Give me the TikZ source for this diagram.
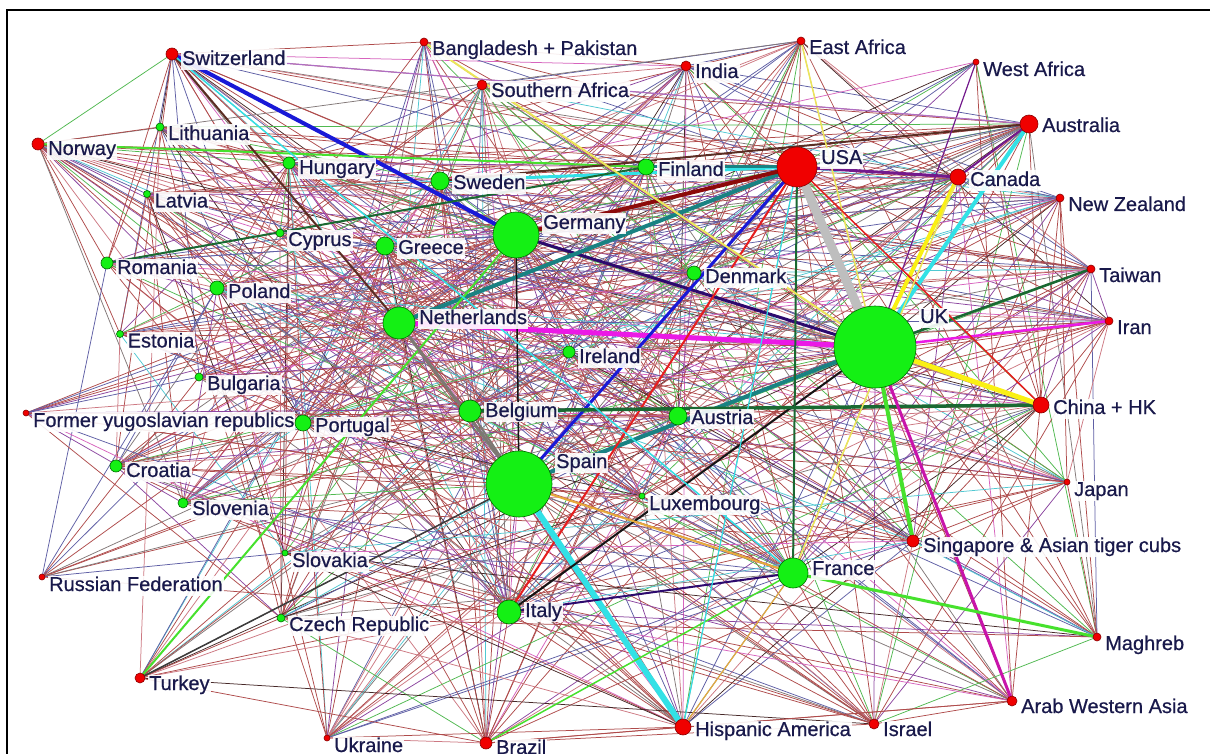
\documentclass[tikz,border=0pt]{standalone}
\usepackage{fontspec}
\setmainfont{Liberation Sans}
\newfontfamily\lblfont{Liberation Sans}[FakeBold=0.6]
\definecolor{txt}{RGB}{25,25,75}
\definecolor{gfill}{RGB}{20,240,20}
\definecolor{gline}{RGB}{0,110,0}
\definecolor{rfill}{RGB}{240,0,0}
\definecolor{rline}{RGB}{140,0,0}
% thin edge palette
\definecolor{eBr}{RGB}{175,75,75}
\definecolor{eRo}{RGB}{205,120,130}
\definecolor{ePu}{RGB}{140,70,160}
\definecolor{eSl}{RGB}{95,95,165}
\definecolor{ePk}{RGB}{215,100,190}
\definecolor{eGy}{RGB}{130,120,120}
\definecolor{eGn}{RGB}{80,185,80}
\definecolor{eCy}{RGB}{80,200,210}
\definecolor{eDk}{RGB}{70,40,40}
\colorlet{ec0}{eBr}\colorlet{ec1}{eBr}\colorlet{ec2}{eBr}\colorlet{ec3}{eBr}
\colorlet{ec4}{eBr}\colorlet{ec5}{eBr}\colorlet{ec6}{eBr}\colorlet{ec7}{eBr}
\colorlet{ec8}{eRo}\colorlet{ec9}{eRo}\colorlet{ec10}{ePu}\colorlet{ec11}{ePu}
\colorlet{ec12}{eSl}\colorlet{ec13}{eSl}\colorlet{ec14}{eSl}\colorlet{ec15}{ePk}
\colorlet{ec16}{eGy}\colorlet{ec17}{eGn}\colorlet{ec18}{eCy}\colorlet{ec19}{eDk}
% thick edge colours
\definecolor{kGray}{RGB}{190,190,190}
\definecolor{kMag}{RGB}{235,25,230}
\definecolor{kBlue}{RGB}{25,25,215}
\definecolor{kNavy}{RGB}{45,10,110}
\definecolor{kTeal}{RGB}{25,130,130}
\definecolor{kRed}{RGB}{230,30,30}
\definecolor{kCyan}{RGB}{50,225,230}
\definecolor{kBlack}{RGB}{20,20,20}
\definecolor{kDGreen}{RGB}{25,105,50}
\definecolor{kYellow}{RGB}{250,240,20}
\definecolor{kGreen}{RGB}{70,225,45}
\definecolor{kPurple}{RGB}{115,25,140}
\definecolor{kDRed}{RGB}{140,10,10}
\definecolor{kOrange}{RGB}{230,170,60}
\definecolor{kBrown}{RGB}{90,45,35}
\definecolor{kLPur}{RGB}{175,110,195}
\definecolor{kDGray}{RGB}{60,60,60}
\definecolor{kMGray}{RGB}{125,120,115}
\definecolor{kLYel}{RGB}{235,230,90}
\definecolor{kAWA}{RGB}{200,20,170}
\tikzset{
  edge/.style={line width=0.75pt},
  lbl/.style={font=\lblfont\fontsize{20}{22}\selectfont, text=txt, fill=white, fill opacity=0.9, text opacity=1, inner sep=1pt, text height=14.5pt, text depth=4pt},
  gdot/.style={circle, draw=gline, fill=gfill, line width=0.6pt, inner sep=0pt},
  rdot/.style={circle, draw=rline, fill=rfill, line width=0.6pt, inner sep=0pt},
}
\def\nodelist{%
sui/172/54/6/rdot/0.78/Switzerland,
bgd/424/42/4/rdot/0.62/Bangladesh + Pakistan,
ind/686/66/5/rdot/0.72/India,
eaf/801/41/4/rdot/0.52/East Africa,
waf/976/62/3/rdot/0.45/West Africa,
saf/482/85/5/rdot/0.62/Southern Africa,
aus/1029/124/9/rdot/0.82/Australia,
nor/38/144/6/rdot/0.72/Norway,
lit/160/127/4/gdot/0.57/Lithuania,
hun/289/163/6/gdot/0.72/Hungary,
swe/440/181/9/gdot/0.82/Sweden,
fin/646/167/8/gdot/0.78/Finland,
usa/797/167/20/rdot/1.3/USA,
can/958/177/8/rdot/0.82/Canada,
nzl/1060/198/4/rdot/0.62/New Zealand,
lat/147/194/3.5/gdot/0.52/Latvia,
ger/516/235/23/gdot/1.3/Germany,
cyp/280/233/4/gdot/0.57/Cyprus,
gre/385/246/9/gdot/0.82/Greece,
den/694/273/7/gdot/0.78/Denmark,
twn/1091/269/4/rdot/0.62/Taiwan,
rom/107/263/6/gdot/0.72/Romania,
pol/217/288/7/gdot/0.78/Poland,
ned/399/323/16/gdot/1.1/Netherlands,
uk/875/347/41/gdot/1.3/UK,
irn/1109/321/4/rdot/0.57/Iran,
est/120/334/3.5/gdot/0.52/Estonia,
irl/569/352/6/gdot/0.78/Ireland,
bul/199/377/4/gdot/0.62/Bulgaria,
bel/470/411/11/gdot/1.0/Belgium,
aut/678/416/9/gdot/0.88/Austria,
chn/1041/405/8/rdot/0.82/China + HK,
fyr/26/413/3/rdot/0.35/Former yugoslavian republics,
por/303/423/8/gdot/0.82/Portugal,
esp/519/484/33/gdot/1.3/Spain,
cro/116/466/6/gdot/0.62/Croatia,
slo/183/503/5/gdot/0.62/Slovenia,
lux/642/496/3/gdot/0.62/Luxembourg,
jpn/1067/482/3/rdot/0.57/Japan,
sgp/913/541/6/rdot/0.72/Singapore \& Asian tiger cubs,
fra/793/573/15/gdot/1.2/France,
svk/285/553/3/gdot/0.52/Slovakia,
rus/42/577/3/rdot/0.35/Russian Federation,
mag/1097/637/4/rdot/0.45/Maghreb,
ita/509/612/12/gdot/1.1/Italy,
cze/281/618/4/gdot/0.62/Czech Republic,
tur/140/678/5/rdot/0.67/Turkey,
awa/1012/701/5/rdot/0.72/Arab Western Asia,
his/683/727/8/rdot/0.78/Hispanic America,
isr/874/724/5/rdot/0.62/Israel,
ukr/327/738/3/rdot/0.35/Ukraine,
bra/486/743/6/rdot/0.62/Brazil}
\begin{document}
\begin{tikzpicture}[x=1pt,y=-1pt]
\useasboundingbox (0,0) rectangle (1210,754);
\fill[white] (0,0) rectangle (1210,754);
\clip (0,0) rectangle (1210,754);
\foreach \n/\x/\y/\r/\t/\w/\lab in \nodelist { \coordinate (\n) at (\x,\y); }
% thin connectors
\pgfmathsetseed{4242}
\foreach \na/\xa/\ya/\ra/\ta/\wa/\la [count=\ia] in \nodelist {
  \foreach \nb/\xb/\yb/\rb/\tb/\wb/\lb [count=\ib] in \nodelist {
    \ifnum\ib>\ia
      \pgfmathtruncatemacro\ok{rnd<\wa*\wb}
      \ifnum\ok=1
        \pgfmathtruncatemacro\ci{random(0,19)}
        \draw[edge, color=ec\ci] (\na) -- (\nb);
      \fi
    \fi
  }
}
% strong connectors
\foreach \a/\b/\c/\wd in {
usa/uk/kGray/9, ned/uk/kMag/5, sui/ger/kBlue/4, ger/uk/kNavy/3,
ned/usa/kTeal/4, esp/uk/kTeal/4, esp/usa/kBlue/3, ita/usa/kRed/2,
esp/his/kCyan/6, ita/uk/kBlack/2, ger/esp/kBlack/1.5, bel/chn/kDGreen/3.5,
uk/chn/kYellow/5, can/uk/kYellow/4, aus/uk/kCyan/4, usa/fra/kDGreen/2,
uk/sgp/kGreen/4, uk/awa/kAWA/3, fra/mag/kGreen/3, uk/twn/kDGreen/2.5,
uk/irn/kMag/2.5, usa/ger/kDRed/4, swe/usa/kCyan/3, fin/usa/kTeal/3,
nor/fin/kGreen/2, rom/fin/kDGreen/2, tur/ger/kGreen/2, tur/esp/kDGray/1.5,
esp/fra/kOrange/2, ita/fra/kNavy/2, bra/fra/kGreen/1.5, his/fra/kOrange/1.2,
his/usa/kCyan/1.2, ned/esp/kMGray/3, bel/esp/kMGray/2, swe/aus/kBrown/2,
usa/can/kPurple/3, aus/can/kPurple/2, waf/uk/kPurple/1.2, eaf/uk/kLYel/1.5,
bgd/uk/kLYel/2, sui/ned/kBrown/2, sui/fra/kCyan/1.5, sui/aus/kLPur/1.2,
usa/chn/kRed/1.5, can/fra/kLYel/1.5}
  { \draw[line width=\wd pt, color=\c] (\a) -- (\b); }
% labels
\foreach \n/\x/\y/\r/\t/\w/\lab in \nodelist {
  \node[lbl, anchor=base west] (\n-l) at (\x+\r+3,\y-\r+17) {\lab};
}
% dots
\foreach \n/\x/\y/\r/\t/\w/\lab in \nodelist {
  \node[\t, minimum size=2*\r] (\n-c) at (\n) {};
}
\draw[line width=2pt] (7,10) rectangle (1240,790);
\end{tikzpicture}
\end{document}
